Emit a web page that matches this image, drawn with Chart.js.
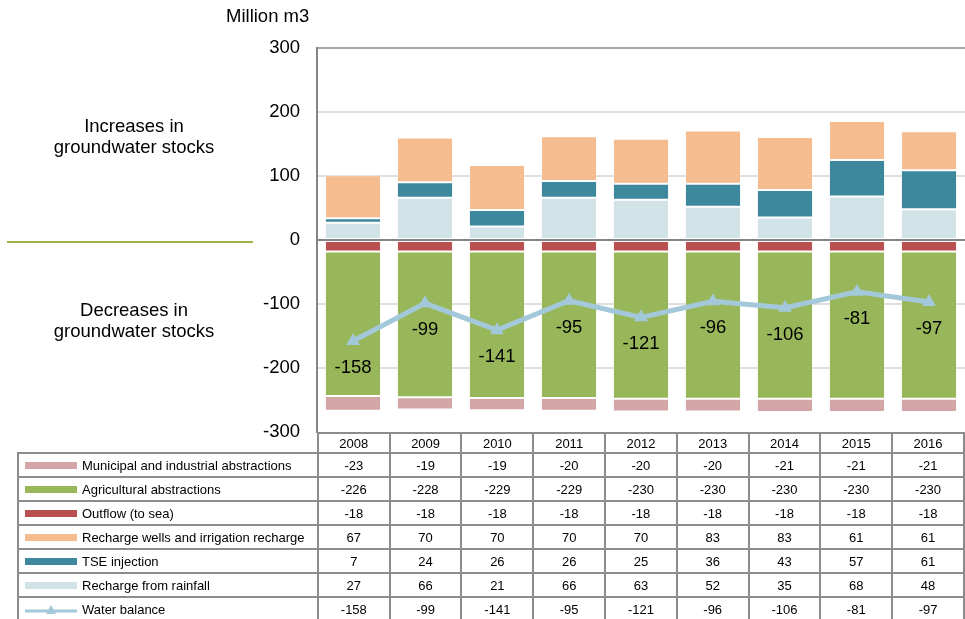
<!DOCTYPE html>
<html>
<head>
<meta charset="utf-8">
<script src="https://cdn.jsdelivr.net/npm/chart.js@4/dist/chart.umd.min.js"></script>
<style>
  body { margin: 0; background: #fff; font-family: "Liberation Sans", Arial, sans-serif; color: #000; }
  #wrap { position: relative; width: 965px; height: 619px; overflow: hidden; }
  #chart { position: absolute; left: 0; top: 0; }
  .note { position: absolute; font-size: 18.5px; line-height: 21px; text-align: center; }
  #unit { left: 226px; top: 5px; }
  #inc { left: 34px; top: 115px; width: 200px; }
  #dec { left: 34px; top: 299px; width: 200px; }
  #divider { position: absolute; left: 7px; top: 241px; width: 246px; height: 2px; background: #a2b04a; }
  #tbl { position: absolute; left: 17px; top: 432px; border-collapse: collapse; table-layout: fixed; font-size: 13px; background: transparent; }
  #tbl td { border: 2px solid #8c8c8c; padding: 0; text-align: center; height: 22px; }
  #tbl tr.head td { height: 18px; }
  #tbl tr.head td.blank { border-top: none; border-left: none; }
  #tbl td.name { text-align: left; padding-left: 6px; white-space: nowrap; }
  .sw { display: inline-block; width: 52px; height: 7px; margin-right: 5px; vertical-align: 1px; }
  svg.sw { height: 10px; vertical-align: -1px; }
</style>
</head>
<body>
<div id="wrap">
  <canvas id="chart" width="965" height="460"></canvas>
  <div class="note" id="unit">Million m3</div>
  <div class="note" id="inc">Increases in<br>groundwater stocks</div>
  <div class="note" id="dec">Decreases in<br>groundwater stocks</div>
  <div id="divider"></div>
  <table id="tbl"></table>
</div>
<script>
// ===============================
// DATA
// ===============================
const years = ["2008", "2009", "2010", "2011", "2012", "2013", "2014", "2015", "2016"];

const municipal     = [-23, -19, -19, -20, -20, -20, -21, -21, -21];
const agricultural  = [-226, -228, -229, -229, -230, -230, -230, -230, -230];
const outflow       = [-18, -18, -18, -18, -18, -18, -18, -18, -18];
const rechargeWells = [67, 70, 70, 70, 70, 83, 83, 61, 61];
const tse           = [7, 24, 26, 26, 25, 36, 43, 57, 61];
const rainfall      = [27, 66, 21, 66, 63, 52, 35, 68, 48];
const balance       = [-158, -99, -141, -95, -121, -96, -106, -81, -97];

const yTicks = [300, 200, 100, 0, -100, -200, -300];

// ===============================
// SERIES (table order)
// ===============================
const lineColor = "#a3c8da";
const series = [
  { name: "Municipal and industrial abstractions", data: municipal, color: "#d4a5a6" },
  { name: "Agricultural abstractions", data: agricultural, color: "#98b75a" },
  { name: "Outflow (to sea)", data: outflow, color: "#b9504f" },
  { name: "Recharge wells and irrigation recharge", data: rechargeWells, color: "#f4bc8f" },
  { name: "TSE injection", data: tse, color: "#3d889c" },
  { name: "Recharge from rainfall", data: rainfall, color: "#d2e3e8" }
];

// stacking: first dataset sits next to zero
const stackOrder = [
  "Outflow (to sea)", "Agricultural abstractions", "Municipal and industrial abstractions",
  "Recharge from rainfall", "TSE injection", "Recharge wells and irrigation recharge"
];

const barSets = stackOrder.map(n => {
  const s = series.find(x => x.name === n);
  return {
    type: "bar",
    label: s.name,
    data: s.data,
    backgroundColor: s.color,
    borderColor: "rgba(255,255,255,0.45)",
    borderWidth: 1,
    borderSkipped: false,
    stack: "flows",
    order: 1,
    barPercentage: 0.78,
    categoryPercentage: 1
  };
});

const lineSet = {
  type: "line",
  label: "Water balance",
  data: balance,
  borderColor: lineColor,
  backgroundColor: lineColor,
  borderWidth: 5,
  pointStyle: "triangle",
  pointRadius: 8,
  pointBorderWidth: 0,
  tension: 0,
  stack: "balance",
  order: 0
};

// ===============================
// PLUGINS
// ===============================
const zeroLine = {
  id: "zeroLine",
  afterDatasetsDraw(chart) {
    const { ctx, chartArea, scales } = chart;
    const y = scales.y.getPixelForValue(0);
    ctx.save();
    ctx.strokeStyle = "#868686";
    ctx.lineWidth = 2;
    ctx.beginPath();
    ctx.moveTo(chartArea.left, y);
    ctx.lineTo(chartArea.right, y);
    ctx.stroke();
    ctx.restore();
  }
};

const balanceLabels = {
  id: "balanceLabels",
  afterDraw(chart) {
    const idx = chart.data.datasets.findIndex(d => d.type === "line");
    const meta = chart.getDatasetMeta(idx);
    const ctx = chart.ctx;
    ctx.save();
    ctx.font = '18.5px "Liberation Sans", Arial, sans-serif';
    ctx.fillStyle = "#000";
    ctx.textAlign = "center";
    ctx.textBaseline = "middle";
    meta.data.forEach((pt, i) => {
      ctx.fillText(String(balance[i]), pt.x, pt.y + 27);
    });
    ctx.restore();
  }
};

// ===============================
// CHART
// ===============================
new Chart(document.getElementById("chart"), {
  data: {
    labels: years,
    datasets: [lineSet, ...barSets]
  },
  options: {
    responsive: false,
    animation: false,
    layout: { autoPadding: false, padding: { top: 48, right: 0, left: 0, bottom: 10 } },
    plugins: {
      legend: { display: false },
      tooltip: { enabled: false }
    },
    scales: {
      x: { display: false, stacked: true },
      y: {
        stacked: true,
        min: -300,
        max: 300,
        afterFit(scale) { scale.width = 317; },
        afterBuildTicks(scale) { scale.ticks = yTicks.map(v => ({ value: v })); },
        border: { display: true, color: "#868686", width: 2 },
        grid: {
          drawTicks: false,
          lineWidth: 2,
          color: c => {
            if (c.tick.value === 300) return "#a8a8a8";
            if (c.tick.value === 0 || c.tick.value === -300) return "rgba(0,0,0,0)";
            return "#dedede";
          }
        },
        ticks: {
          padding: 17,
          color: "#000",
          font: { family: '"Liberation Sans", Arial, sans-serif', size: 18.5 }
        }
      }
    }
  },
  plugins: [zeroLine, balanceLabels]
});

// ===============================
// DATA TABLE
// ===============================
function buildTable() {
  const tbl = document.getElementById("tbl");
  let html = '<colgroup><col style="width:300px">' + years.map(() => '<col style="width:72px">').join("") + "</colgroup>";
  html += '<tr class="head"><td class="blank"></td>' + years.map(y => `<td>${y}</td>`).join("") + "</tr>";
  series.forEach(s => {
    html += `<tr><td class="name"><span class="sw" style="background:${s.color}"></span>${s.name}</td>`;
    html += s.data.map(v => `<td>${v}</td>`).join("") + "</tr>";
  });
  const mark = `<svg class="sw" viewBox="0 0 52 10"><line x1="0" y1="6" x2="52" y2="6" stroke="${lineColor}" stroke-width="3"/><polygon points="26,0 31,9 21,9" fill="${lineColor}"/></svg>`;
  html += `<tr><td class="name">${mark}Water balance</td>` + balance.map(v => `<td>${v}</td>`).join("") + "</tr>";
  tbl.innerHTML = html;
}
buildTable();
</script>
</body>
</html>
